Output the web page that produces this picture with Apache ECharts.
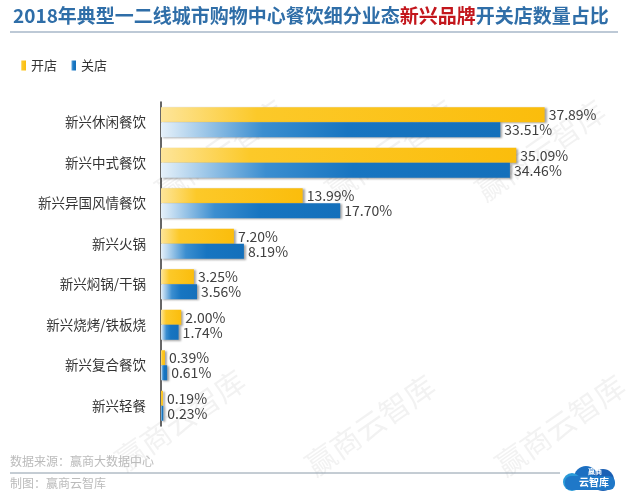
<!DOCTYPE html>
<html><head><meta charset="utf-8">
<script src="https://cdn.jsdelivr.net/npm/echarts@6/dist/echarts.min.js"></script>
<style>html,body{margin:0;padding:0;background:#fff}#c{width:640px;height:492px}</style>
</head><body><div id="c"></div>
<script>
var categories = ['新兴休闲餐饮','新兴中式餐饮','新兴异国风情餐饮','新兴火锅','新兴焖锅/干锅','新兴烧烤/铁板烧','新兴复合餐饮','新兴轻餐'];
var openValues = [37.89, 35.09, 13.99, 7.20, 3.25, 2.00, 0.39, 0.19];
var closeValues = [33.51, 34.46, 17.70, 8.19, 3.56, 1.74, 0.61, 0.23];
var seriesNames = ['开店', '关店'];

var FONT = '"Noto Sans CJK SC", "Noto Sans", sans-serif';
var chart = echarts.init(document.getElementById('c'));

function wm(x, y) {
  return {type:'text', left:x, top:y, rotation:Math.PI*35/180, silent:true, z:0,
    style:{text:'赢商云智库', font:'30px ' + FONT, fill:'rgba(190,190,190,0.2)'}};
}

var option = {
  backgroundColor:'#fff',
  animation:false,
  title:{
    left:8, top:1,
    text:'{a|2018年典型一二线城市购物中心餐饮细分业态}{b|新兴品牌}{a|开关店数量占比}',
    textStyle:{rich:{
      a:{fontSize:19, fontWeight:'bold', color:'#2f6ea8', fontFamily:FONT},
      b:{fontSize:19, fontWeight:'bold', color:'#c3161c', fontFamily:FONT}
    }}
  },
  legend:{
    left:16, top:54, itemWidth:5, itemHeight:10, itemGap:14,
    icon:'rect',
    textStyle:{fontSize:13, color:'#333', fontFamily:FONT},
    data:seriesNames
  },
  grid:{left:161, top:102, width:405, height:324, containLabel:false},
  xAxis:{type:'value', min:0, max:40, show:false},
  yAxis:{
    type:'category', data:categories, inverse:true,
    axisLine:{lineStyle:{color:'#333', width:1.5}},
    axisTick:{show:false},
    axisLabel:{fontSize:13.5, color:'#333', margin:15, fontFamily:FONT}
  },
  series:[
    {name:seriesNames[0], type:'bar', data:openValues, barWidth:15, barGap:'0%',
     itemStyle:{color:new echarts.graphic.LinearGradient(0,0,1,0,[
       {offset:0,color:'#fde59a'},{offset:0.25,color:'#fcc929'},{offset:1,color:'#fbbd0c'}]),
       shadowColor:'rgba(0,0,0,0.35)', shadowBlur:2, shadowOffsetX:2, shadowOffsetY:1},
     label:{show:true, position:'right', distance:4, fontSize:14, color:'#404040', fontFamily:FONT,
       formatter:function(p){return p.value.toFixed(2)+'%';}}
    },
    {name:seriesNames[1], type:'bar', data:closeValues, barWidth:15,
     itemStyle:{color:new echarts.graphic.LinearGradient(0,0,1,0,[
       {offset:0,color:'#e6f1fa'},{offset:0.3,color:'#3b8ed0'},{offset:0.55,color:'#1775c1'},{offset:1,color:'#1470bb'}]),
       shadowColor:'rgba(0,0,0,0.35)', shadowBlur:2, shadowOffsetX:2, shadowOffsetY:1},
     label:{show:true, position:'right', distance:4, fontSize:14, color:'#404040', fontFamily:FONT,
       formatter:function(p){return p.value.toFixed(2)+'%';}}
    }
  ],
  color:['#f9bd14','#1a74bf'],
  graphic:[
    {type:'line', shape:{x1:10,y1:32,x2:618,y2:32}, style:{stroke:'#7d93ad', lineWidth:1.2}},
    wm(150,95), wm(320,95), wm(470,95), wm(110,365), wm(300,370), wm(490,370),
    {type:'text', left:10, top:455, style:{text:'数据来源：赢商大数据中心', font:'12px '+FONT, fill:'#bbbbbb'}},
    {type:'line', shape:{x1:10,y1:473,x2:560,y2:473}, style:{stroke:'#8a9aa8', lineWidth:1}},
    {type:'text', left:10, top:477, style:{text:'制图：赢商云智库', font:'12px '+FONT, fill:'#bbbbbb'}},
    {type:'circle', shape:{cx:586,cy:478,r:12}, style:{fill:'#1c6fc1'}},
    {type:'circle', shape:{cx:603,cy:480,r:11}, style:{fill:'#1a5fb4'}},
    {type:'circle', shape:{cx:572,cy:482,r:9}, style:{fill:'#2a9ad8'}},
    {type:'rect', shape:{x:565,y:476,width:50,height:14,r:6}, style:{fill:'#1f78c8'}},
    {type:'text', left:588, top:468, style:{text:'赢商', font:'bold 7px '+FONT, fill:'#fff'}},
    {type:'text', left:579, top:477, style:{text:'云智库', font:'bold 10px '+FONT, fill:'#fff'}}
  ]
};
chart.setOption(option);
</script></body></html>
